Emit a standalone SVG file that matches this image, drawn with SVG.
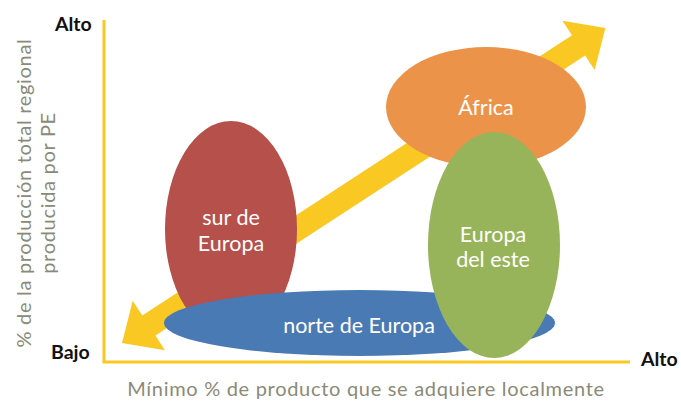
<svg xmlns="http://www.w3.org/2000/svg" width="681" height="401" viewBox="0 0 681 401">
<style>
.axis{stroke:#F9C823;stroke-width:3;fill:none}
.lbl{font-family:Lato,"Open Sans",sans-serif;font-size:20px;fill:#8A8A78;letter-spacing:0.7px}
.end{font-family:Lato,"Open Sans",sans-serif;font-size:19.5px;font-weight:bold;fill:#111}
.in{font-family:Lato,"Open Sans",sans-serif;font-size:21.5px;fill:#fff;text-anchor:middle}
</style>
<rect width="681" height="401" fill="#fff"/>
<g id="axes">
<polyline class="axis" points="104,20 104,362 630,362"/>
</g>
<g id="connectors">
<polygon fill="#F9C823" transform="translate(122,343) rotate(-33.1)" points="0,0 32,-29.5 32,-12 545,-12 545,-29.5 577,0 545,29.5 545,12 32,12 32,29.5"/>
</g>
<g id="sur">
<ellipse cx="231" cy="229" rx="66" ry="108" fill="#B5504B"/>
<text class="in" x="231" y="225">sur de</text>
<text class="in" x="231" y="251">Europa</text>
</g>
<g id="norte">
<ellipse cx="359.5" cy="323" rx="195.5" ry="33" fill="#4A7AB3"/>
<text class="in" x="359" y="333">norte de Europa</text>
</g>
<g id="africa">
<ellipse cx="486" cy="107" rx="100" ry="60" fill="#EC934A"/>
<text class="in" x="486" y="115">África</text>
</g>
<g id="este">
<ellipse cx="494" cy="245" rx="66" ry="113" fill="#98B45A"/>
<text class="in" x="493" y="242">Europa</text>
<text class="in" x="493" y="267">del este</text>
</g>
<g id="labels">
<text class="end" x="55" y="31">Alto</text>
<text class="end" x="51" y="359">Bajo</text>
<text class="end" x="641" y="366">Alto</text>
<text class="lbl" x="366" y="396" text-anchor="middle">Mínimo % de producto que se adquiere localmente</text>
<g transform="translate(0,193) rotate(-90)" text-anchor="middle">
<text class="lbl" x="0" y="31">% de la producción total regional</text>
<text class="lbl" x="0" y="55">producida por PE</text>
</g>
</g>
</svg>
